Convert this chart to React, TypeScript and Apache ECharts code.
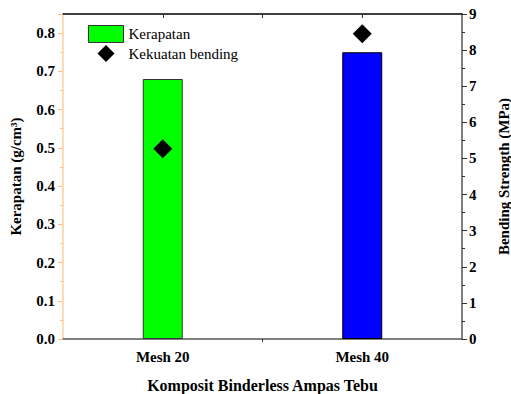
import React, { useEffect, useRef } from "react";
import * as echarts from "echarts";

const categories = ["Mesh 20", "Mesh 40"];
const kerapatan = [0.68, 0.75];
const kekuatanBending = [5.27, 8.45];
const barColors = ["#00FF00", "#0000FF"];
const leftTicks = { min: 0, max: 0.85, interval: 0.1 };
const rightTicks = { min: 0, max: 9, interval: 1 };

const FONT = "Liberation Serif";

export default function App() {
  const ref = useRef<HTMLDivElement>(null);
  useEffect(() => {
    if (!ref.current) return;
    const chart = echarts.init(ref.current, null, { renderer: "svg" });
    const labelStyle = { fontFamily: FONT, fontWeight: "bold" as const, fontSize: 15, color: "#000" };
    chart.setOption({
      animation: false,
      textStyle: { fontFamily: FONT },
      grid: { left: 63, right: 49, top: 14, bottom: 55, outerBoundsMode: "none", containLabel: false },
      legend: {
        orient: "vertical",
        left: 83,
        top: 20,
        itemWidth: 35,
        itemHeight: 17,
        itemGap: 2,
        symbolKeepAspect: true,
        textStyle: { fontFamily: FONT, fontSize: 15, color: "#000" },
        data: [
          { name: "Kerapatan", icon: "rect", itemStyle: { color: "#00FF00", borderColor: "#333", borderWidth: 1 } },
          { name: "Kekuatan bending", icon: "path://M0,-1L1,0L0,1L-1,0Z", itemStyle: { color: "#000", opacity: 1 } },
        ],
      },
      xAxis: [
        {
          type: "category",
          data: categories,
          position: "bottom",
          axisLine: { lineStyle: { color: "#555", width: 1.5 } },
          axisTick: { alignWithLabel: true, length: 5, lineStyle: { color: "#333" } },
          axisLabel: { ...labelStyle, margin: 10 },
          name: "Komposit Binderless Ampas Tebu",
          nameLocation: "middle",
          nameGap: 38,
          nameTextStyle: { fontFamily: FONT, fontWeight: "bold", fontSize: 16, color: "#000" },
        },
        {
          type: "value",
          min: 0.5,
          max: 2.5,
          position: "bottom",
          axisLine: { show: false },
          axisTick: { show: true, customValues: [1.5], length: 3, lineStyle: { color: "#333" } },
          axisLabel: { show: false },
          splitLine: { show: false },
        },
        {
          type: "value",
          min: 0.5,
          max: 2.5,
          position: "top",
          axisLine: { show: true, lineStyle: { color: "#000", width: 1.5 } },
          axisTick: { show: true, inside: true, customValues: [1, 1.5, 2], length: 4, lineStyle: { color: "#333" } },
          axisLabel: { show: false },
          splitLine: { show: false },
        },
      ],
      yAxis: [
        {
          type: "value",
          ...leftTicks,
          position: "left",
          axisLine: { show: true, lineStyle: { color: "#FFD0A0", width: 1.5 } },
          axisTick: { show: true, length: 5, lineStyle: { color: "#FFC090" } },
          minorTick: { show: true, splitNumber: 2, length: 3, lineStyle: { color: "#FFC090" } },
          splitLine: { show: false },
          axisLabel: {
            ...labelStyle,
            margin: 8,
            formatter: (v: number) => (Math.abs(v * 10 - Math.round(v * 10)) > 1e-6 ? "" : v.toFixed(1)),
          },
          name: "Kerapatan (g/cm³)",
          nameLocation: "middle",
          nameGap: 40,
          nameRotate: 90,
          nameTextStyle: { fontFamily: FONT, fontWeight: "bold", fontSize: 15, color: "#000" },
        },
        {
          type: "value",
          ...rightTicks,
          position: "right",
          axisLine: { show: true, lineStyle: { color: "#555", width: 1.5 } },
          axisTick: { show: true, length: 5, lineStyle: { color: "#333" } },
          minorTick: { show: true, splitNumber: 2, length: 3, lineStyle: { color: "#333" } },
          splitLine: { show: false },
          axisLabel: { ...labelStyle, margin: 7 },
          name: "Bending Strength (MPa)",
          nameLocation: "middle",
          nameGap: 34,
          nameRotate: 90,
          nameTextStyle: { fontFamily: FONT, fontWeight: "bold", fontSize: 15, color: "#000" },
        },
      ],
      series: [
        {
          name: "Kerapatan",
          type: "bar",
          xAxisIndex: 0,
          yAxisIndex: 0,
          barWidth: 40,
          data: kerapatan.map((v, i) => ({
            value: v,
            itemStyle: { color: barColors[i], borderColor: i === 0 ? "#333" : "#000", borderWidth: 1 },
          })),
        },
        {
          name: "Kekuatan bending",
          type: "scatter",
          xAxisIndex: 0,
          yAxisIndex: 1,
          symbol: "diamond",
          symbolSize: 19,
          itemStyle: { color: "#000", opacity: 1 },
          data: kekuatanBending,
          z: 3,
        },
      ],
    });
    return () => chart.dispose();
  }, []);
  return <div ref={ref} style={{ width: 511, height: 394, position: "absolute", left: 0, top: 0, background: "#fff" }} />;
}
